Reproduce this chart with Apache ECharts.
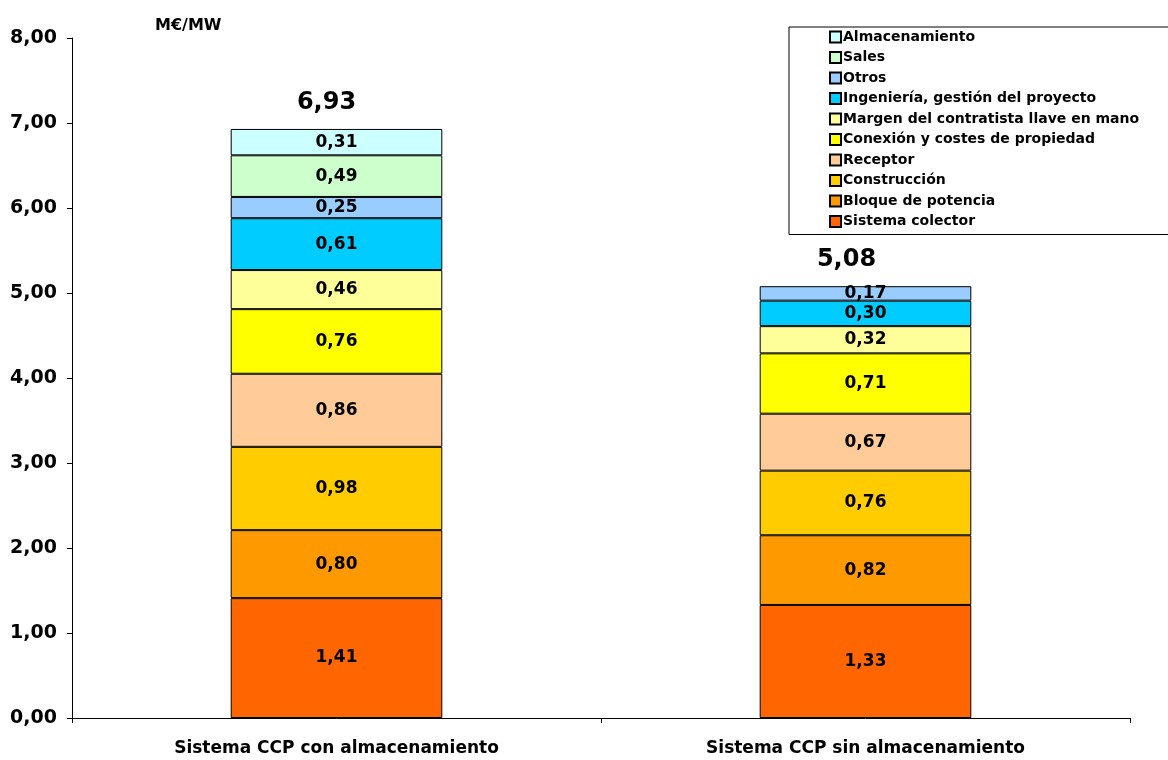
<!DOCTYPE html>
<html>
<head>
<meta charset="utf-8">
<script src="https://cdn.jsdelivr.net/npm/echarts@6/dist/echarts.min.js"></script>
<style>
  html, body { margin: 0; padding: 0; background: #fff; }
  #chartmain { width: 1168px; height: 760px; }
</style>
</head>
<body>
<div id="chartmain"></div>
<script>
var categories = ['Sistema CCP con almacenamiento', 'Sistema CCP sin almacenamiento'];
var names = ['Sistema colector', 'Bloque de potencia', 'Construcción', 'Receptor',
  'Conexión y costes de propiedad', 'Margen del contratista llave en mano',
  'Ingeniería, gestión del proyecto', 'Otros', 'Sales', 'Almacenamiento'];
var colors = ['#ff6600', '#ff9900', '#ffcc00', '#ffcc99', '#ffff00', '#ffff99',
  '#00ccff', '#99ccff', '#ccffcc', '#ccffff'];
var con_alm = [1.41, 0.80, 0.98, 0.86, 0.76, 0.46, 0.61, 0.25, 0.49, 0.31];
var sin_alm = [1.33, 0.82, 0.76, 0.67, 0.71, 0.32, 0.30, 0.17, 0, 0];
var totals = [6.93, 5.08];
var yTicks = [0, 1, 2, 3, 4, 5, 6, 7, 8];

var font = 'DejaVu Sans, sans-serif';
function fmt(v) { return v.toFixed(2).replace('.', ','); }

var series = names.map(function (n, i) {
    return {
        name: n,
        type: 'bar',
        stack: 'total',
        barWidth: '40%',
        data: [con_alm[i], sin_alm[i]].map(function (v) { return v === 0 ? null : v; }),
        itemStyle: { color: colors[i], borderColor: '#000', borderWidth: 1 },
        label: {
            show: true,
            position: 'inside',
            color: '#000',
            fontFamily: font,
            fontWeight: 'bold',
            fontSize: 17,
            formatter: function (p) { return fmt(p.value); }
        }
    };
});
// totals above the stacks (text boxes sit a bit left of centre in the original)
var totalShift = [-10, -19];
series.push({
    name: 'total',
    type: 'scatter',
    symbolSize: 0,
    data: totals.map(function (v, i) { return { value: v, label: { offset: [totalShift[i], 0] } }; }),
    itemStyle: { opacity: 1 },
    label: {
        show: true,
        position: 'top',
        distance: 14,
        color: '#000',
        fontFamily: font,
        fontWeight: 'bold',
        fontSize: 24,
        formatter: function (p) { return fmt(p.value); }
    }
});

var option = {
    animation: false,
    grid: { left: 72, right: 38, top: 38, bottom: 42 },
    legend: {
        data: names.slice().reverse(),
        orient: 'vertical',
        left: 789,
        top: 27,
        padding: [3, 30, 6, 40],
        itemGap: 6.5,
        itemWidth: 11,
        itemHeight: 11,
        icon: 'rect',
        borderColor: '#000',
        borderWidth: 1,
        textStyle: { fontFamily: font, fontWeight: 'bold', fontSize: 14, color: '#000', padding: [0, 0, 0, -3] }
    },
    xAxis: {
        type: 'category',
        data: categories,
        axisLine: { lineStyle: { color: '#000', width: 1 } },
        axisTick: { show: true, length: 5, lineStyle: { color: '#000' } },
        axisLabel: { color: '#000', fontFamily: font, fontWeight: 'bold', fontSize: 17, margin: 22 }
    },
    yAxis: {
        type: 'value',
        min: yTicks[0],
        max: yTicks[yTicks.length - 1],
        interval: 1,
        name: 'M€/MW',
        nameLocation: 'end',
        nameGap: 4,
        nameTextStyle: { color: '#000', fontFamily: font, fontWeight: 'bold', fontSize: 16, align: 'left', padding: [0, 0, 0, 83] },
        splitLine: { show: false },
        axisLine: { show: true, lineStyle: { color: '#000', width: 1 } },
        axisTick: { show: true, length: 5, lineStyle: { color: '#000' } },
        axisLabel: { color: '#000', fontFamily: font, fontWeight: 'bold', fontSize: 19, margin: 15, formatter: function (v) { return fmt(v); } }
    },
    series: series
};

var myChart = echarts.init(document.getElementById('chartmain'));
myChart.setOption(option);
</script>
</body>
</html>
